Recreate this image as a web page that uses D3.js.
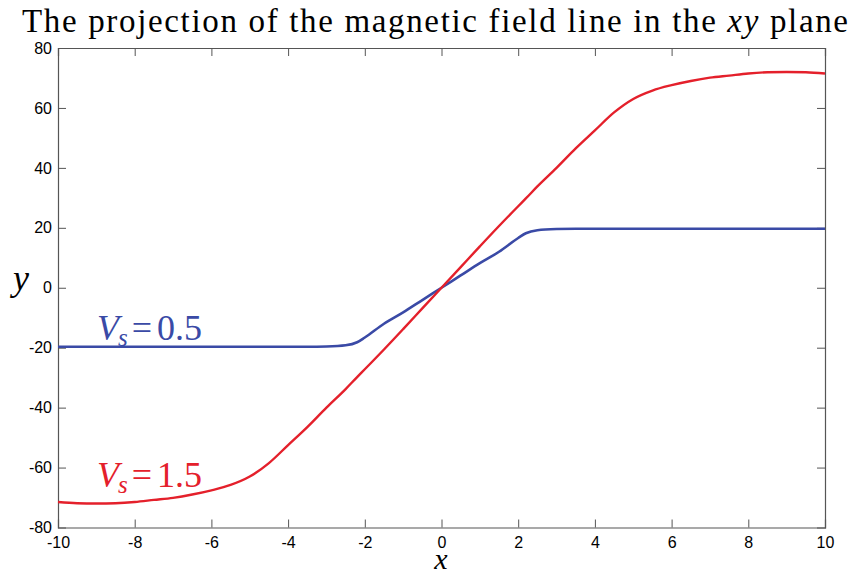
<!DOCTYPE html>
<html>
<head>
<meta charset="utf-8">
<script src="https://cdn.jsdelivr.net/npm/d3@7"></script>
<style>
  html, body { margin: 0; padding: 0; background: #fff; }
  svg { display: block; }
</style>
</head>
<body>
<svg id="chart" width="851" height="573"></svg>
<script>
// Field-line projections y(x) for two source speeds
const xs = [-10, -9.5, -9, -8.5, -8, -7.5, -7, -6.5, -6, -5.5, -5, -4.5, -4, -3.5, -3, -2.5, -2.2, -2, -1.5, -1, -0.5, 0,
            0.5, 1, 1.5, 2, 2.2, 2.5, 3, 3.5, 4, 4.5, 5, 5.5, 6, 6.5, 7, 7.5, 8, 8.5, 9, 9.5, 10];
const ySlow = [-19.7, -19.7, -19.7, -19.7, -19.7, -19.7, -19.7, -19.7, -19.7, -19.7, -19.7, -19.7, -19.7, -19.7, -19.6, -19.2, -18.2, -16.6, -12, -8.2, -4.1, 0,
               4.1, 8.2, 12, 16.6, 18.2, 19.2, 19.6, 19.7, 19.7, 19.7, 19.7, 19.7, 19.7, 19.7, 19.7, 19.7, 19.7, 19.7, 19.7, 19.7, 19.7];
const yFast = [-71.5, -71.9, -72, -71.9, -71.5, -70.8, -70.1, -69, -67.6, -65.8, -63, -58.5, -52.5, -46.5, -40, -33.8, -29.8, -27.2, -20.6, -13.8, -6.9, 0,
               6.9, 13.8, 20.6, 27.2, 29.8, 33.8, 40, 46.5, 52.5, 58.5, 63, 65.8, 67.6, 69, 70.1, 70.8, 71.5, 71.9, 72, 71.9, 71.5];
const xTicks = [-10, -8, -6, -4, -2, 0, 2, 4, 6, 8, 10];
const yTicks = [-80, -60, -40, -20, 0, 20, 40, 60, 80];

const svg = d3.select("#chart");
const plotL = 58, plotR = 825, plotT = 48, plotB = 527.5;
const x = d3.scaleLinear().domain([-10, 10]).range([plotL, plotR]);
const y = d3.scaleLinear().domain([-80, 80]).range([plotB, plotT]);

const frameColor = "#555";
const tickFont = "Liberation Sans, Arial, sans-serif";
const plain = d => String(d);

// Axes: labelled bottom/left, mirrored tick marks on top/right, ticks point inward
const gx = svg.append("g").attr("transform", `translate(0,${plotB})`)
  .call(d3.axisBottom(x).tickValues(xTicks).tickSize(-8).tickPadding(9).tickFormat(plain));
const gy = svg.append("g").attr("transform", `translate(${plotL},0)`)
  .call(d3.axisLeft(y).tickValues(yTicks).tickSize(-8).tickPadding(6).tickFormat(plain));
const gxt = svg.append("g").attr("transform", `translate(0,${plotT})`)
  .call(d3.axisTop(x).tickValues(xTicks).tickSize(-8).tickFormat(""));
const gyr = svg.append("g").attr("transform", `translate(${plotR},0)`)
  .call(d3.axisRight(y).tickValues(yTicks).tickSize(-8).tickFormat(""));

[gx, gy, gxt, gyr].forEach(g => {
  g.attr("font-size", null).attr("font-family", null);
  g.select(".domain").attr("stroke", frameColor).attr("stroke-width", 1.2);
  g.selectAll(".tick line").attr("stroke", frameColor).attr("stroke-width", 1);
  g.selectAll(".tick text").attr("fill", "#000")
    .attr("font-family", tickFont).attr("font-size", 16);
});
// drop end ticks that coincide with the frame
gx.selectAll(".tick line").filter(d => d === -10 || d === 10).remove();
gxt.selectAll(".tick line").filter(d => d === -10 || d === 10).remove();
gy.selectAll(".tick line").filter(d => d === -80 || d === 80).remove();
gyr.selectAll(".tick line").filter(d => d === -80 || d === 80).remove();

// Curves
const line = yArr => d3.line()
  .x((d, i) => x(xs[i]))
  .y((d, i) => y(yArr[i]))
  .curve(d3.curveMonotoneX)(yArr);

svg.append("path").attr("d", line(ySlow))
  .attr("fill", "none").attr("stroke", "#3a4aa6").attr("stroke-width", 2.6);
svg.append("path").attr("d", line(yFast))
  .attr("fill", "none").attr("stroke", "#e4202b").attr("stroke-width", 2.4);

const serif = "Liberation Serif, Times New Roman, serif";

// Title, spread to span the figure width
const title = svg.append("text")
  .attr("x", 22).attr("y", 32)
  .attr("font-family", serif).attr("font-size", 33).attr("fill", "#000")
  .attr("textLength", 826).attr("lengthAdjust", "spacing");
title.append("tspan").text("The projection of the magnetic field line in the ");
title.append("tspan").attr("font-style", "italic").text("xy");
title.append("tspan").text(" plane");

// Axis labels
svg.append("text").attr("x", 441).attr("y", 569).attr("text-anchor", "middle")
  .attr("font-family", serif).attr("font-style", "italic").attr("font-size", 30).text("x");
svg.append("text").attr("x", 21).attr("y", 290).attr("text-anchor", "middle")
  .attr("font-family", serif).attr("font-style", "italic").attr("font-size", 36).text("y");

// Curve annotations
function vsLabel(val, baseline, color) {
  const t = svg.append("text").attr("x", 97).attr("y", baseline)
    .attr("font-family", serif).attr("font-size", 36).attr("fill", color);
  t.append("tspan").attr("font-style", "italic").text("V");
  t.append("tspan").attr("font-style", "italic").attr("font-size", 25).attr("dy", 6).attr("dx", -1).text("s");
  t.append("tspan").attr("dy", -6).attr("dx", 4).text("=");
  t.append("tspan").attr("dx", 5).text(val);
  return t;
}
vsLabel("0.5", 340, "#3a4aa6");
vsLabel("1.5", 487, "#e4202b");
</script>
</body>
</html>
